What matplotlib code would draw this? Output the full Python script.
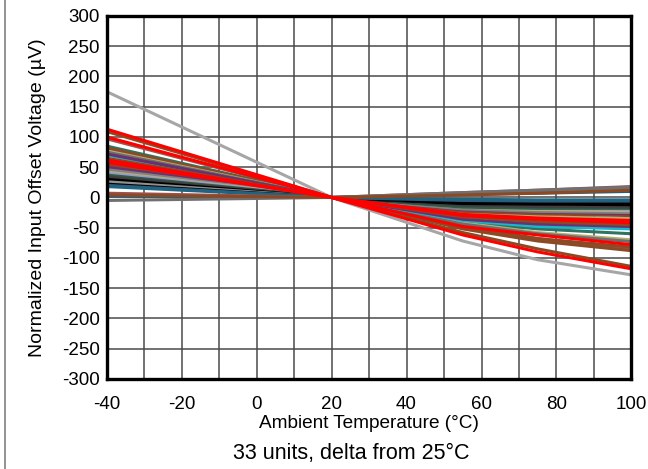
import numpy as np
import matplotlib
matplotlib.use('Agg')
from matplotlib import pyplot as plt
from matplotlib.lines import Line2D

plt.rcParams['font.family'] = ['Liberation Sans', 'DejaVu Sans']

# temperature points (degC) of every unit curve
temps = [-40, 20, 55, 75, 100]

# normalized offset (uV) of the 33 units at the temperatures above
offsets = [
	[175, 0, -72, -103, -128],
	[109, 0, -58, -85, -114],
	[97, 0, -50, -68, -85],
	[85, 0, -40, -52, -60],
	[82, 0, -52, -72, -88],
	[79, 0, -48, -68, -82],
	[77, 0, -42, -58, -70],
	[75, 0, -44, -60, -73],
	[70, 0, -38, -48, -52],
	[72, 0, -36, -44, -48],
	[65, 0, -32, -40, -45],
	[56, 0, -25, -31, -35],
	[54, 0, -23, -27, -30],
	[50, 0, -20, -24, -27],
	[46, 0, -19, -23, -25],
	[42, 0, -16, -20, -22],
	[40, 0, -15, -18, -20],
	[37, 0, -16, -18, -18],
	[34, 0, -13, -15, -16],
	[30, 0, -10, -11, -12],
	[26, 0, -8, -9, -10],
	[22, 0, -9, -10, -10],
	[20, 0, -5, -6, -6],
	[18, 0, -3, -4, -4],
	[7, 0, 8, 12, 18],
	[3, 0, 6, 10, 15],
	[2, 0, 5, 7, 10],
	[-5, 0, 8, 12, 17],
	[4, 0, 4, 7, 12],
	[113, 0, -62, -90, -118],
	[100, 0, -48, -62, -78],
	[62, 0, -30, -36, -42],
	[58, 0, -28, -34, -38],
]

colors = [
	'#a6a6a6', '#8c4a24', '#a0524d', '#2f7362', '#8c4a24', '#8c4a24',
	'#b8ad72', '#6e6e6e', '#16b8cc', '#6b3070', '#8c4a24', '#b8ad72',
	'#8c4a24', '#6b3070', '#808080', '#b8ad72', '#9a9ac8', '#2e5c4a',
	'#404040', '#000000', '#909090', '#000000', '#2d5a7c', '#1f6480',
	'#a05050', '#888888', '#1f5f7f', '#707070', '#8c4a24',
	'#ff0000', '#ff0000', '#ff0000', '#ff0000',
]

xticks = [-40, -20, 0, 20, 40, 60, 80, 100]
yticks = [-300, -250, -200, -150, -100, -50, 0, 50, 100, 150, 200, 250, 300]

fig = plt.figure(figsize=(6.48, 4.69), dpi=100)
ax = fig.add_axes([0.1645, 0.192, 0.81, 0.774])

for vals, c in zip(offsets, colors):
	ax.plot(temps, vals, color=c, lw=2.2, solid_capstyle='butt')

ax.set_xlim(-40, 100)
ax.set_ylim(-300, 300)
ax.set_xticks(xticks)
ax.set_xticks(range(-30, 100, 20), minor=True)
ax.set_yticks(yticks)
ax.set_yticklabels([str(v) for v in yticks])
ax.set_xticklabels([str(v) for v in xticks])
ax.grid(True, which='both', color='#4a4a4a', lw=1.1)
ax.set_axisbelow(True)
ax.tick_params(which='both', length=0, labelsize=13.5)
ax.tick_params(axis='x', pad=12)
ax.tick_params(axis='y', pad=5)
for s in ax.spines.values():
	s.set_linewidth(2.4)
	s.set_color('black')

ax.set_ylabel('Normalized Input Offset Voltage (µV)', fontsize=14, labelpad=11)
ax.set_xlabel('Ambient Temperature (°C)', fontsize=13.7, labelpad=2)
fig.text(0.542, 0.034, '33 units, delta from 25°C', ha='center', va='center', fontsize=15.5)

# left frame edge
fig.add_artist(Line2D([0.008, 0.008], [0, 1], color='#808080', lw=1.2, transform=fig.transFigure))

fig.savefig('out.png', dpi=100)
